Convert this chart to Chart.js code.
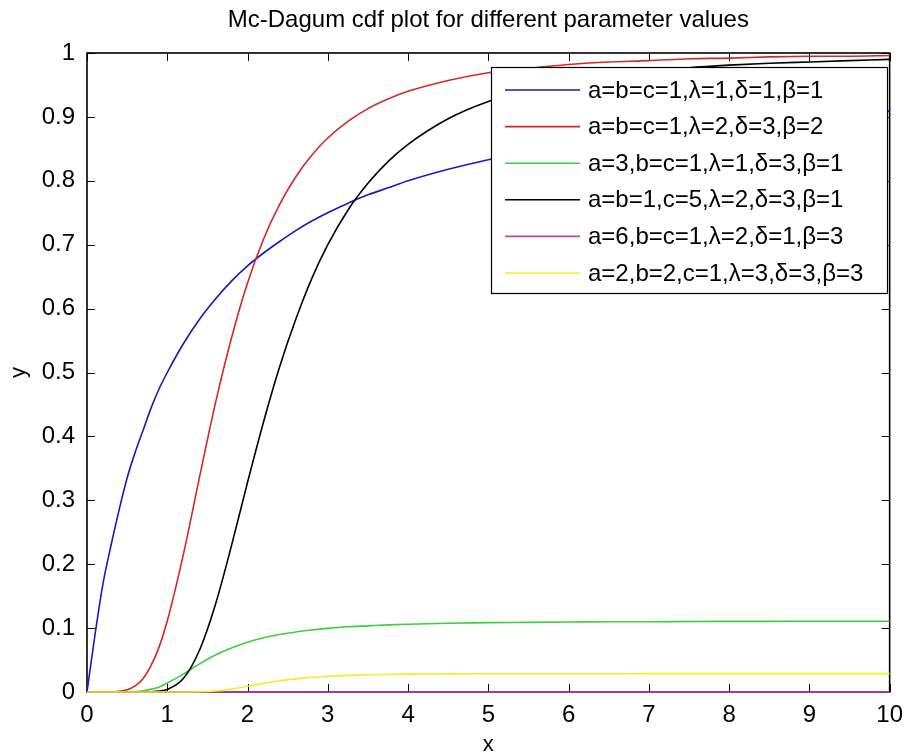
<!DOCTYPE html>
<html>
<head>
<meta charset="utf-8">
<script src="https://cdn.jsdelivr.net/npm/chart.js@4/dist/chart.umd.min.js"></script>
<style>
  html, body { margin: 0; padding: 0; background: #ffffff; }
  #wrap { width: 912px; height: 756px; }
</style>
</head>
<body>
<div id="wrap"><canvas id="c" width="912" height="756"></canvas></div>
<script>
const chartTitle = 'Mc-Dagum cdf plot for different parameter values';
const xAxisTitle = 'x';
const yAxisTitle = 'y';

const xTickValues = [0, 1, 2, 3, 4, 5, 6, 7, 8, 9, 10];
const xTickLabels = ['0', '1', '2', '3', '4', '5', '6', '7', '8', '9', '10'];
const yTickValues = [0, 0.1, 0.2, 0.3, 0.4, 0.5, 0.6, 0.7, 0.8, 0.9, 1];
const yTickLabels = ['0', '0.1', '0.2', '0.3', '0.4', '0.5', '0.6', '0.7', '0.8', '0.9', '1'];

const seriesLabels = [
  'a=b=c=1,\u03bb=1,\u03b4=1,\u03b2=1',
  'a=b=c=1,\u03bb=2,\u03b4=3,\u03b2=2',
  'a=3,b=c=1,\u03bb=1,\u03b4=3,\u03b2=1',
  'a=b=1,c=5,\u03bb=2,\u03b4=3,\u03b2=1',
  'a=6,b=c=1,\u03bb=2,\u03b4=1,\u03b2=3',
  'a=2,b=2,c=1,\u03bb=3,\u03b4=3,\u03b2=3'
];
const seriesColors = ['#1a1ab8', '#d42828', '#3ccf3c', '#000000', '#c03cc0', '#f0f01e'];

const xValues = [0, 0.1, 0.2, 0.3, 0.4, 0.5, 0.6, 0.7, 0.8, 0.9, 1,
  1.2, 1.4, 1.6, 1.8, 2, 2.2, 2.4, 2.6, 2.8,
  3, 3.25, 3.5, 3.75,
  4, 4.5, 5, 5.5, 6, 6.5, 7, 7.5, 8, 8.5, 9, 9.5, 10];

const blueY = [0, 0.09, 0.17, 0.23, 0.285, 0.335, 0.375, 0.41, 0.445, 0.475, 0.5,
  0.545, 0.583, 0.615, 0.643, 0.667, 0.687, 0.705, 0.722, 0.737,
  0.75, 0.765, 0.778, 0.789,
  0.8, 0.818, 0.833, 0.846, 0.857, 0.867, 0.875, 0.882, 0.889, 0.895, 0.9, 0.905, 0.909];

const redY = [0, 0, 0, 0, 0.001, 0.0035, 0.0095, 0.021, 0.042, 0.071, 0.111,
  0.215, 0.335, 0.452, 0.554, 0.64, 0.709, 0.763, 0.806, 0.84,
  0.867, 0.893, 0.913, 0.928,
  0.94, 0.957, 0.969, 0.976, 0.982, 0.986, 0.988, 0.991, 0.992, 0.994, 0.995, 0.995, 0.996];

const greenY = [0, 0, 0, 0, 0, 0, 0.0006, 0.002, 0.0045, 0.008, 0.014,
  0.028, 0.044, 0.058, 0.069, 0.078, 0.085, 0.09, 0.094, 0.097,
  0.0995, 0.102, 0.1035, 0.105,
  0.106, 0.1075, 0.1085, 0.109, 0.1095, 0.11, 0.11, 0.1103, 0.1105, 0.1106, 0.1107, 0.1108, 0.1108];

const blackY = [0, 0, 0, 0, 0, 0, 0, 0, 0.0004, 0.0015, 0.004,
  0.021, 0.065, 0.137, 0.229, 0.328, 0.423, 0.509, 0.583, 0.647,
  0.70, 0.754, 0.796, 0.83,
  0.857, 0.897, 0.924, 0.942, 0.955, 0.964, 0.971, 0.977, 0.981, 0.984, 0.986, 0.988, 0.99];

const magentaY = [0, 0, 0, 0, 0, 0, 0, 0, 0, 0, 0,
  0, 0, 0, 0, 0, 0, 0, 0, 0,
  0, 0, 0, 0,
  0, 0, 0, 0, 0, 0, 0, 0, 0, 0, 0, 0, 0];

const yellowY = [0, 0, 0, 0, 0, 0, 0, 0, 0, 0, 0,
  0, 0.0003, 0.0015, 0.0045, 0.009, 0.0135, 0.0175, 0.0205, 0.023,
  0.0245, 0.026, 0.027, 0.0275,
  0.028, 0.0283, 0.0285, 0.0285, 0.0286, 0.0286, 0.0287, 0.0287, 0.0287, 0.0288, 0.0288, 0.0288, 0.0288];

const seriesValues = [blueY, redY, greenY, blackY, magentaY, yellowY];

const FONT = '"Liberation Sans", Arial, Helvetica, sans-serif';

const datasets = seriesValues.map((vals, i) => ({
  label: seriesLabels[i],
  data: xValues.map((x, k) => ({ x: x, y: vals[k] })),
  borderColor: seriesColors[i],
  backgroundColor: seriesColors[i],
  borderWidth: 1.6,
  pointRadius: 0,
  fill: false,
  cubicInterpolationMode: 'monotone',
  clip: 6,
  order: seriesValues.length - 1 - i
}));

const matlabAxes = {
  id: 'matlabAxes',
  beforeDatasetsDraw(chart) {
    const { ctx, chartArea: a, scales: { x, y } } = chart;
    ctx.save();
    // title centred over the axes box
    ctx.fillStyle = '#000';
    ctx.font = '24px ' + FONT;
    ctx.textAlign = 'center';
    ctx.textBaseline = 'middle';
    ctx.fillText(chartTitle, (a.left + a.right) / 2, 20);

    ctx.strokeStyle = '#000';
    ctx.lineWidth = 1;
    const tl = 8;
    xTickValues.forEach(v => {
      const px = Math.round(x.getPixelForValue(v)) + 0.5;
      ctx.beginPath();
      ctx.moveTo(px, a.bottom); ctx.lineTo(px, a.bottom - tl);
      ctx.moveTo(px, a.top); ctx.lineTo(px, a.top + tl);
      ctx.stroke();
    });
    yTickValues.forEach(v => {
      const py = Math.round(y.getPixelForValue(v)) + 0.5;
      ctx.beginPath();
      ctx.moveTo(a.left, py); ctx.lineTo(a.left + tl, py);
      ctx.moveTo(a.right, py); ctx.lineTo(a.right - tl, py);
      ctx.stroke();
    });
    ctx.lineWidth = 1.6;
    ctx.strokeRect(a.left, a.top, a.right - a.left, a.bottom - a.top);
    ctx.restore();
  },
  afterDatasetsDraw(chart) {
    const { ctx } = chart;
    const box = { left: 491, top: 67, right: 887, bottom: 293 };
    ctx.save();
    ctx.fillStyle = '#fff';
    ctx.fillRect(box.left, box.top, box.right - box.left, box.bottom - box.top);
    ctx.strokeStyle = '#000';
    ctx.lineWidth = 1.2;
    ctx.strokeRect(box.left + 0.5, box.top + 0.5, box.right - box.left, box.bottom - box.top);
    ctx.font = '24px ' + FONT;
    ctx.textBaseline = 'middle';
    ctx.textAlign = 'left';
    chart.data.datasets.forEach((ds, i) => {
      const ry = 90 + i * 36.6;
      ctx.strokeStyle = ds.borderColor;
      ctx.lineWidth = 1.6;
      ctx.beginPath();
      ctx.moveTo(505, ry); ctx.lineTo(580, ry);
      ctx.stroke();
      ctx.fillStyle = '#000';
      ctx.fillText(ds.label, 588, ry + 1);
    });
    ctx.restore();
  }
};

new Chart(document.getElementById('c'), {
  type: 'line',
  data: { datasets: datasets },
  options: {
    responsive: false,
    animation: false,
    events: [],
    layout: { padding: { top: 53, right: 15, bottom: 0, left: 0 } },
    plugins: {
      legend: { display: false },
      tooltip: { enabled: false },
      title: { display: false }
    },
    scales: {
      x: {
        type: 'linear',
        min: 0, max: 10,
        grid: { display: false, drawTicks: false },
        border: { display: false },
        afterFit(scale) { scale.height = 64; },
        afterBuildTicks(scale) { scale.ticks = xTickValues.map(v => ({ value: v })); },
        ticks: {
          color: '#000',
          padding: 9,
          maxRotation: 0,
          autoSkip: false,
          font: { family: FONT, size: 24 },
          callback: (v) => { const i = xTickValues.indexOf(v); return i >= 0 ? xTickLabels[i] : ''; }
        },
        title: {
          display: true, text: xAxisTitle, color: '#000',
          font: { family: FONT, size: 22 }, padding: { top: 0, bottom: -2 }
        }
      },
      y: {
        type: 'linear',
        min: 0, max: 1,
        grid: { display: false, drawTicks: false },
        border: { display: false },
        afterFit(scale) { scale.width = 87; },
        afterBuildTicks(scale) { scale.ticks = yTickValues.map(v => ({ value: v })); },
        ticks: {
          color: '#000',
          padding: 12,
          autoSkip: false,
          font: { family: FONT, size: 24 },
          callback: (v) => { const i = yTickValues.findIndex(t => Math.abs(t - v) < 1e-9); return i >= 0 ? yTickLabels[i] : ''; }
        },
        title: {
          display: true, text: yAxisTitle, color: '#000',
          font: { family: FONT, size: 22 }, padding: { top: 6, bottom: 0 }
        }
      }
    }
  },
  plugins: [matlabAxes]
});
</script>
</body>
</html>
